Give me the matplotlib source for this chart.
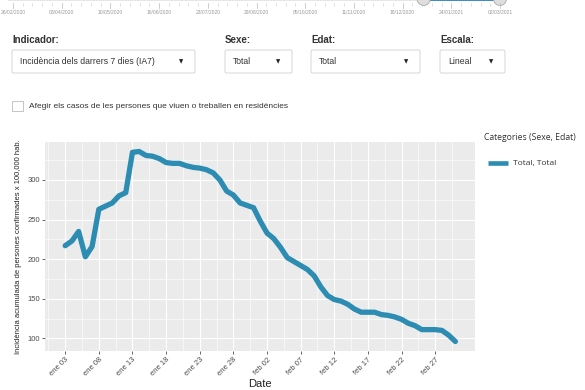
import matplotlib
matplotlib.use("Agg")
import matplotlib.pyplot as plt
import matplotlib.dates as mdates
import matplotlib.ticker as mticker
import numpy as np
import pandas as pd
from matplotlib.patches import FancyBboxPatch, Rectangle, Circle

plt.rcParams["font.family"] = ["Liberation Sans", "DejaVu Sans"]

# --- data ---
START = "2021-01-03"
ia7 = [217, 223, 235, 203, 216, 263, 267, 271, 280, 284,
       335, 336, 331, 330, 327, 322, 321, 321, 318, 316,
       315, 313, 309, 300, 286, 281, 271, 268, 265, 248,
       233, 226, 215, 202, 197, 192, 187, 179, 165, 154,
       149, 147, 143, 137, 133, 133, 133, 130, 129, 127,
       124, 119, 116, 111, 111, 111, 110, 104, 96]
dates = pd.date_range(START, periods=len(ia7), freq="D")

slider_labels = ["26/02/2020", "03/04/2020", "10/05/2020", "16/06/2020",
                 "23/07/2020", "29/08/2020", "05/10/2020", "11/11/2020",
                 "18/12/2020", "24/01/2021", "02/03/2021"]
slider_sel = ["2021-01-03", "2021-03-02"]

MESOS = ["ene", "feb", "mar", "abr", "may", "jun",
         "jul", "ago", "sep", "oct", "nov", "dic"]

LINE = "#2C8CB1"
W, H = 585, 390

fig = plt.figure(figsize=(W / 100, H / 100), dpi=100)

# --- chart panel ---
ax = fig.add_axes([45 / W, 1 - 351 / H, 430 / W, 209 / H])
ax.set_facecolor("#EBEBEB")
ax.plot(dates, ia7, color=LINE, lw=3.8, solid_capstyle="round",
        solid_joinstyle="round", zorder=3)

ax.set_xlim(pd.Timestamp("2020-12-31"), pd.Timestamp("2021-03-04 22:00"))
ax.set_ylim(84, 348)
ax.xaxis.set_major_formatter(mticker.FuncFormatter(
    lambda v, p: "%s %02d" % (MESOS[mdates.num2date(v).month - 1], mdates.num2date(v).day)))
ax.set_xticks([mdates.date2num(pd.Timestamp(START) + pd.Timedelta(days=k)) for k in range(0, 60, 5)])
ax.set_xticks([mdates.date2num(pd.Timestamp(START) + pd.Timedelta(days=k + 2.5)) for k in range(-5, 60, 5)],
              minor=True)
ax.yaxis.set_major_locator(mticker.MultipleLocator(50))
ax.yaxis.set_minor_locator(mticker.MultipleLocator(25))
ax.grid(True, which="major", color="white", lw=0.8)
ax.grid(True, which="minor", color="white", lw=0.4)
ax.set_axisbelow(True)
for s in ax.spines.values():
    s.set_visible(False)
ax.tick_params(axis="both", which="major", length=2.5, width=0.6, color="#4D4D4D",
               labelcolor="#4D4D4D", labelsize=5.5, pad=1.2)
ax.tick_params(axis="both", which="minor", length=0)
plt.setp(ax.get_xticklabels(), rotation=45, ha="right", rotation_mode="anchor")
ax.set_xlabel("Date", fontsize=8, color="#222222", labelpad=1)
ax.set_ylabel("Incidència acumulada de persones confirmades x 100,000 hab.",
              fontsize=5.5, color="#222222", labelpad=4)

# --- UI overlay in pixel coordinates ---
ui = fig.add_axes([0, 0, 1, 1], zorder=5)
ui.set_xlim(0, W)
ui.set_ylim(H, 0)
ui.axis("off")
ui.patch.set_alpha(0)

# slider
t0 = pd.Timestamp("2020-02-26")
t1 = pd.Timestamp("2021-03-02")
span = (t1 - t0).days


def sx(d):
    return 13 + (pd.Timestamp(d) - t0).days / span * 487


ui.add_patch(Rectangle((8, -4), 496, 5, fc="#E6E6E6", ec="none"))
hx0, hx1 = sx(slider_sel[0]), sx(slider_sel[1])
ui.add_patch(Rectangle((hx0, -4), hx1 - hx0, 5, fc="#428BCA", ec="none"))
for lab in slider_labels:
    x = sx(pd.to_datetime(lab, dayfirst=True))
    ui.plot([x, x], [3, 8], color="#BBBBBB", lw=0.5)
    ui.text(x, 13, lab, fontsize=3.6, color="#999999", ha="center", va="center")
for k in range(len(slider_labels) - 1):
    a = sx(pd.to_datetime(slider_labels[k], dayfirst=True))
    b = sx(pd.to_datetime(slider_labels[k + 1], dayfirst=True))
    for f in (0.2, 0.4, 0.6, 0.8):
        xm = a + (b - a) * f
        ui.plot([xm, xm], [3, 5.5], color="#CCCCCC", lw=0.4)
for hx in (hx0, hx1):
    ui.add_patch(Circle((hx, -1), 6.5, fc="#DEDEDE", ec="#AAAAAA", lw=0.6))

# selectors
controls = [
    ("Indicador:", "Incidència dels darrers 7 dies (IA7)", 12, 195),
    ("Sexe:", "Total", 225, 292),
    ("Edat:", "Total", 311, 420),
    ("Escala:", "Lineal", 440, 505),
]
for lab, val, x0, x1 in controls:
    ui.text(x0, 40, lab, fontsize=7, fontweight="bold", color="#333333", va="center")
    ui.add_patch(FancyBboxPatch((x0, 50), x1 - x0, 23, boxstyle="round,pad=0,rounding_size=1.5",
                                fc="white", ec="#D0D0D0", lw=0.6))
    ui.text(x0 + 8, 61.5, val, fontsize=6.2, color="#333333", va="center")
    ui.text(x1 - 14, 61.5, "▼", fontsize=4, color="#222222", va="center", ha="center",
            family="DejaVu Sans")

ui.add_patch(Rectangle((12, 100.5), 10.5, 10.5, fc="white", ec="#BBBBBB", lw=0.6))
ui.text(29, 106, "Afegir els casos de les persones que viuen o treballen en residències",
        fontsize=6.05, color="#333333", va="center")

# legend
ui.text(484, 137, "Categories (Sexe, Edat)", fontsize=6.2, color="#333333", va="center",
        family=["Open Sans", "DejaVu Sans"])
ui.plot([488, 508], [163, 163], color=LINE, lw=3.3, solid_capstyle="butt")
ui.text(513, 163, "Total, Total", fontsize=6, color="#333333", va="center",
        family=["Open Sans", "DejaVu Sans"])

fig.savefig("out.png", dpi=100)
